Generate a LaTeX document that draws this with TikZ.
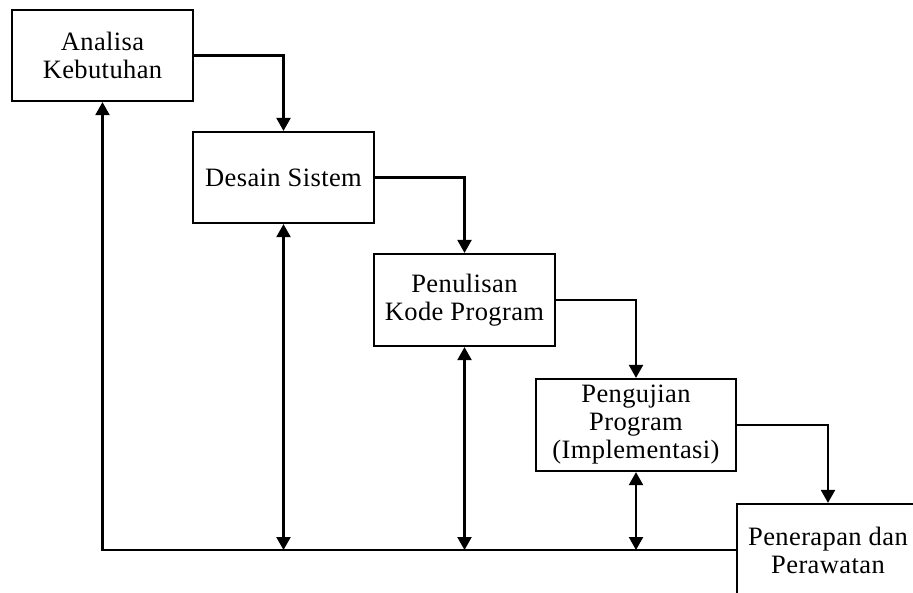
\documentclass[tikz,border=0pt]{standalone}
\usepackage{fontspec}
\setmainfont{Liberation Serif}[LetterSpace=1.5]
\usetikzlibrary{arrows.meta}
\begin{document}
\begin{tikzpicture}[x=1pt,y=-1pt,
  stagebox/.style={draw,line width=2.2pt,rectangle,align=center,inner sep=2pt,
    font=\fontsize{26.5}{28}\selectfont},
  flow/.style={line width=2.2pt,-{Triangle[width=14pt,length=13pt]}},
  back/.style={line width=2.2pt,{Triangle[width=14pt,length=13pt]}-{Triangle[width=14pt,length=13pt]}}]
\clip (0,0) rectangle (913,592);
\useasboundingbox (0,0) rectangle (913,592);
\node[stagebox,minimum width=181pt,minimum height=91pt] (b1) at (102.5,55.5) {Analisa\\Kebutuhan};
\node[stagebox,minimum width=181pt,minimum height=91pt] (b2) at (283.5,177.5) {Desain Sistem};
\node[stagebox,minimum width=181pt,minimum height=92pt] (b3) at (464.5,300) {Penulisan\\Kode Program};
\node[stagebox,minimum width=200pt,minimum height=92pt] (b4) at (636,425) {Pengujian\\Program\\(Implementasi)};
\node[stagebox,minimum width=182pt,minimum height=92pt] (b5) at (828,550) {Penerapan dan\\Perawatan};
\draw[flow] (b1.east) -| (b2.north);
\draw[flow] (b2.east) -| (b3.north);
\draw[flow] (b3.east) -| (b4.north);
\draw[flow] (b4.east) -| (b5.north);
\draw[flow] (b5.west) -- (b1.south |- b5.west) -- (b1.south);
\draw[back] (b2.south) -- (b2.south |- b5.west);
\draw[back] (b3.south) -- (b3.south |- b5.west);
\draw[back] (b4.south) -- (b4.south |- b5.west);
\end{tikzpicture}
\end{document}
